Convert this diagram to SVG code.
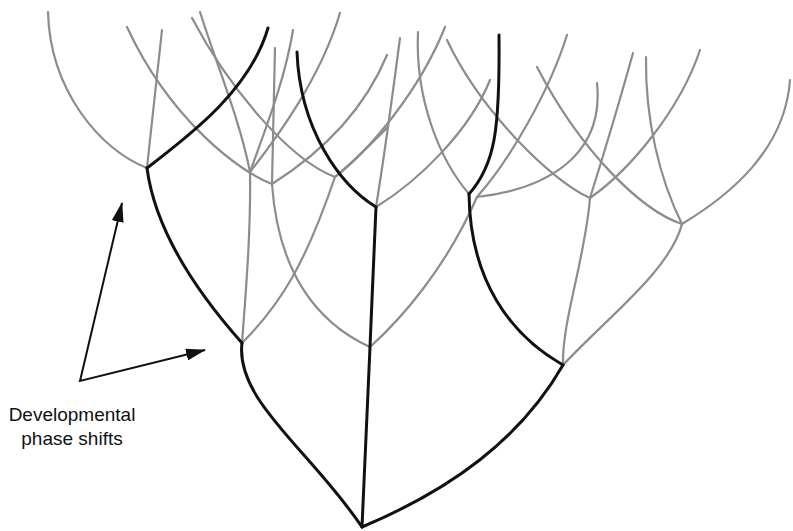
<svg xmlns="http://www.w3.org/2000/svg" width="793" height="531" viewBox="0 0 793 531">
<style>
.bk{fill:none;stroke:#111;stroke-width:3;stroke-linecap:round;stroke-linejoin:round}
.gr{fill:none;stroke:#8c8c8c;stroke-width:2.2;stroke-linecap:round;stroke-linejoin:round}
.ar{fill:none;stroke:#111;stroke-width:2}
.lb{font-family:"Liberation Sans",Arial,sans-serif;font-size:19px;fill:#111;text-anchor:middle}
</style>
<defs>
<marker id="ah" viewBox="0 0 20 12" refX="19" refY="6" markerWidth="20" markerHeight="12" markerUnits="userSpaceOnUse" orient="auto-start-reverse">
<path d="M0,0 L20,6 L0,12 Z" fill="#111"/>
</marker>
</defs>
<rect width="793" height="531" fill="#fff"/>
<g id="connectors">
<g id="gray-branches">
<path class="gr" d="M242,343 C246,290 251,230 250,172"/>
<path class="gr" d="M242,343 C280,305 305,265 335,177"/>
<path class="gr" d="M370,347 C315,322 278,270 272,184"/>
<path class="gr" d="M370,347 C400,320 445,270 477,197"/>
<path class="gr" d="M563,365 C562,320 585,260 590,198"/>
<path class="gr" d="M563,365 C610,315 670,270 682,224"/>
<path class="gr" d="M147,168 C100,150 50,90 48,12"/>
<path class="gr" d="M147,168 C152,120 158,70 162,30"/>
<path class="gr" d="M250,172 C240,120 215,60 200,12"/>
<path class="gr" d="M250,172 C265,130 285,80 293,30"/>
<path class="gr" d="M250,172 C275,140 320,80 340,13"/>
<path class="gr" d="M272,184 C240,172 170,120 127,27"/>
<path class="gr" d="M272,184 C273,140 274,90 275,48"/>
<path class="gr" d="M272,184 C310,160 360,120 387,55"/>
<path class="gr" d="M335,177 C290,160 230,90 192,18"/>
<path class="gr" d="M335,177 C370,150 420,90 445,27"/>
<path class="gr" d="M335,177 C355,160 375,140 388,127"/>
<path class="gr" d="M376,207 C382,170 388,130 400,38"/>
<path class="gr" d="M376,207 C420,180 470,130 490,80"/>
<path class="gr" d="M469,194 C440,160 415,100 418,32"/>
<path class="gr" d="M477,197 C510,160 550,90 567,35"/>
<path class="gr" d="M477,197 C540,190 605,160 597,83"/>
<path class="gr" d="M590,198 C550,180 480,110 447,40"/>
<path class="gr" d="M590,198 C605,150 620,100 633,53"/>
<path class="gr" d="M590,198 C630,170 680,110 700,50"/>
<path class="gr" d="M682,224 C640,210 580,150 537,67"/>
<path class="gr" d="M682,224 C660,180 645,120 646,57"/>
<path class="gr" d="M682,224 C730,195 785,150 790,80"/>
</g>
<g id="black-lineage">
<path class="bk" d="M362,527 C310,450 235,400 242,343"/>
<path class="bk" d="M362,527 L370,347 C372,300 374,250 376,207"/>
<path class="bk" d="M362,527 C450,490 520,440 563,365"/>
<path class="bk" d="M242,343 C195,290 155,230 147,168"/>
<path class="bk" d="M147,168 C190,135 250,90 268,28"/>
<path class="bk" d="M376,207 C340,185 300,130 297,52"/>
<path class="bk" d="M563,365 C510,335 470,280 469,194"/>
<path class="bk" d="M469,194 C495,165 500,130 499,35"/>
</g>
<g id="arrows">
<path class="ar" d="M122,203 L80,381 L205,350" marker-start="url(#ah)" marker-end="url(#ah)"/>
</g>
</g>
<g id="label">
<text class="lb" x="72" y="421">Developmental</text>
<text class="lb" x="72" y="445">phase shifts</text>
</g>
</svg>
